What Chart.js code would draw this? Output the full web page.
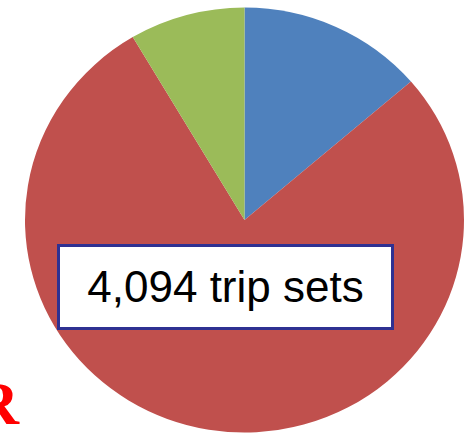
<!DOCTYPE html>
<html lang="en">

<head>
    <meta charset="UTF-8">
    <title>Trip sets</title>
    <script src="https://cdn.jsdelivr.net/npm/chart.js"></script>
    <style>
        html, body {
            margin: 0;
            padding: 0;
            background: #ffffff;
            width: 474px;
            height: 433px;
            overflow: hidden;
        }

        .palco {
            position: relative;
            width: 474px;
            height: 433px;
        }

        #graficoPizza {
            position: absolute;
            left: 0;
            top: 0;
        }

        .caixa-total {
            position: absolute;
            left: 57px;
            top: 244px;
            width: 331px;
            height: 80px;
            border: 3px solid #2e3192;
            background: #ffffff;
            font-family: "Liberation Sans", Arial, sans-serif;
            font-size: 44px;
            line-height: 80px;
            text-align: center;
            color: #000000;
        }

        .letra-r {
            position: absolute;
            right: 455px;
            top: 372px;
            font-family: "Liberation Serif", "Times New Roman", serif;
            font-weight: bold;
            font-size: 62px;
            line-height: 62px;
            color: #ff0000;
        }
    </style>
</head>

<body>
    <div class="palco">
        <canvas id="graficoPizza" width="474" height="440"></canvas>
        <div class="caixa-total">4,094 trip sets</div>
        <div class="letra-r">R</div>
    </div>

    <script>
        // fatias em sentido horário a partir do topo
        const categorias = ['Azul', 'Vermelho', 'Verde'];
        const valores = [13.7, 77.8, 8.5];
        const cores = ['#4f81bd', '#c0504d', '#9bbb59'];

        // achata a pizza na vertical (fica levemente oval)
        const achatar = {
            id: 'achatar',
            beforeDatasetsDraw(chart) {
                const ctx = chart.ctx;
                const a = chart.chartArea;
                const cy = (a.top + a.bottom) / 2;
                ctx.save();
                ctx.translate(0, cy);
                ctx.scale(1, 0.968);
                ctx.translate(0, -cy);
            },
            afterDatasetsDraw(chart) {
                chart.ctx.restore();
            }
        };

        const graficoPizza = document.getElementById('graficoPizza');
        new Chart(graficoPizza, {
            type: 'pie',
            data: {
                labels: categorias,
                datasets: [{
                    data: valores,
                    backgroundColor: cores,
                    borderWidth: 0
                }]
            },
            options: {
                responsive: false,
                animation: false,
                layout: { padding: { left: 25, right: 10, top: 0.5, bottom: 0.5 } },
                plugins: {
                    legend: { display: false },
                    tooltip: { enabled: false }
                }
            },
            plugins: [achatar]
        });
    </script>
</body>

</html>
